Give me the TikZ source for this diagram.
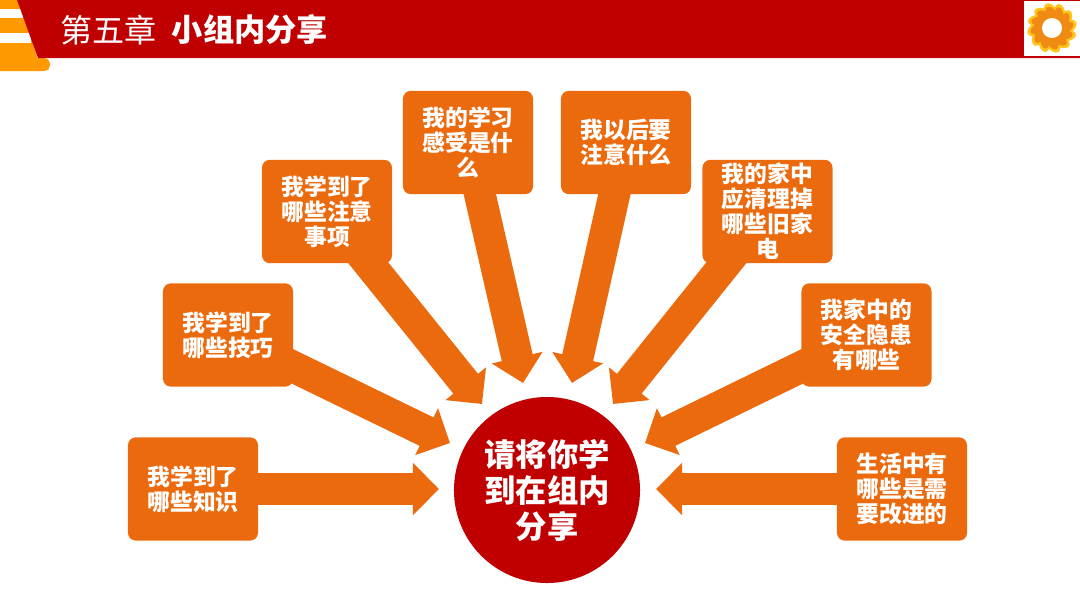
\documentclass[tikz,border=0pt]{standalone}
\usepackage{fontspec}
\setmainfont{Noto Sans CJK SC}
\usetikzlibrary{arrows.meta,backgrounds}
\definecolor{bandred}{HTML}{C00000}
\definecolor{topicorange}{HTML}{EC6A0E}
\definecolor{coneorange}{HTML}{FF9900}
\definecolor{petalyellow}{HTML}{FFC31A}
\definecolor{petalorange}{HTML}{EF8A12}

\begin{document}
\begin{tikzpicture}[
  x=0.025cm, y=-0.025cm,
  topic/.style={fill=topicorange, rounded corners=5.5pt, minimum width=3.25cm, minimum height=2.58cm, inner sep=0pt, align=center, text=white, font=\fontsize{16.2}{17.8}\selectfont\bfseries},
  arr/.style={-{Triangle[length=18.5pt,width=36pt]}, line width=22.5pt, topicorange},
  hub/.style={circle, fill=bandred, minimum size=4.65cm, inner sep=0pt, align=center, text=white, font=\fontsize{22.3}{25.6}\selectfont\bfseries},
  headtext/.style={text=white, anchor=west, inner sep=0pt}
]

\useasboundingbox (0, 0) rectangle (1080, 608);

% header
\fill[coneorange, rounded corners=4pt] (-10, 58) rectangle (50, 71);
\fill[coneorange] (0, 0) -- (20, 0) -- (38, 60) -- (0, 60) -- cycle;
\fill[white] (0, 9) -- (23, 9) -- (23, 18) -- (0, 18) -- cycle;
\fill[white] (0, 33) -- (31, 33) -- (31, 43) -- (0, 43) -- cycle;
\fill[bandred] (17, 0) -- (1080, 0) -- (1080, 58) -- (38, 58) -- cycle;
\node[headtext, font=\fontsize{22.8}{26}\selectfont] (chapter) at (60, 30) {第五章};
\node[headtext, font=\fontsize{22.2}{26}\selectfont\bfseries] (section) at (171.5, 30) {小组内分享};

% logo
\fill[white] (1024, 1) rectangle (1080, 56);
\foreach \a in {0,30,...,330} {
  \fill[petalyellow, rotate around={\a:(1052,28)}, rotate around={35:(1052,13)}] (1052, 13) ellipse [x radius=6, y radius=11];
}
\foreach \a in {0,30,...,330} {
  \fill[petalorange, rotate around={\a:(1052,28)}, rotate around={35:(1052,14)}] (1052, 14) ellipse [x radius=4.5, y radius=8.5];
}
\fill[white] (1052, 28) circle (10);

% topics
\node[topic] (knowledge) at (193, 489) {我学到了\\哪些知识};
\node[topic] (skills) at (228, 335) {我学到了\\哪些技巧};
\node[topic] (cautions) at (327, 211.5) {我学到了\\哪些注意\\事项};
\node[topic] (feeling) at (468, 142.5) {我的学习\\感受是什\\么};
\node[topic] (later) at (626, 142.5) {我以后要\\注意什么};
\node[topic] (oldgoods) at (767.5, 211.5) {我的家中\\应清理掉\\哪些旧家\\电};
\node[topic] (hazards) at (866.5, 335) {我家中的\\安全隐患\\有哪些};
\node[topic] (improve) at (902, 489) {生活中有\\哪些是需\\要改进的};
\node[hub] (share) at (547, 490) {请将你学\\到在组内\\分享};

% arrow ends
\coordinate (tipa) at (439, 489);
\coordinate (tipb) at (450, 443);
\coordinate (tipc) at (482, 404);
\coordinate (tipd) at (523, 383);
\coordinate (tipe) at (572, 383);
\coordinate (tipf) at (613, 404);
\coordinate (tipg) at (645, 443);
\coordinate (tiph) at (656, 489);

\begin{scope}[on background layer]
\draw[arr] (knowledge.center) -- (tipa);
\draw[arr] (skills.center) -- (tipb);
\draw[arr] (cautions.center) -- (tipc);
\draw[arr] (feeling.center) -- (tipd);
\draw[arr] (later.center) -- (tipe);
\draw[arr] (oldgoods.center) -- (tipf);
\draw[arr] (hazards.center) -- (tipg);
\draw[arr] (improve.center) -- (tiph);
\end{scope}

\end{tikzpicture}
\end{document}
